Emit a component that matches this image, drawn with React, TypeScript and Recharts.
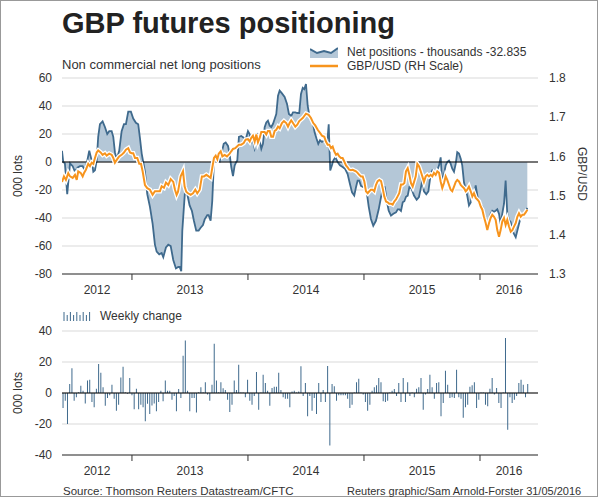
import { ComposedChart, BarChart, Area, Line, Bar, XAxis, YAxis, CartesianGrid, ReferenceLine } from 'recharts'

const FONT = '"Liberation Sans", Arial, sans-serif'
const TEXT = '#333'
const BLUE = '#3f6a8d'
const BLUE_FILL = '#b4c7d7'
const ORANGE = '#f7941d'
const GRID = '#d9d9d9'

// net non-commercial positions, thousands of lots (dates as decimal years)
const netDates = [
  2012.397, 2012.408, 2012.422, 2012.442, 2012.466, 2012.489, 2012.509, 2012.529, 2012.552, 2012.575,
  2012.595, 2012.615, 2012.632, 2012.653, 2012.667, 2012.681, 2012.696, 2012.709, 2012.724, 2012.747,
  2012.767, 2012.787, 2012.804, 2012.825, 2012.839, 2012.853, 2012.868, 2012.89, 2012.911, 2012.931,
  2012.948, 2012.968, 2012.991, 2013.011, 2013.034, 2013.054, 2013.069, 2013.084, 2013.097, 2013.112,
  2013.132, 2013.155, 2013.178, 2013.198, 2013.213, 2013.235, 2013.256, 2013.27, 2013.293, 2013.313,
  2013.334, 2013.356, 2013.379, 2013.399, 2013.411, 2013.425, 2013.434, 2013.448, 2013.459, 2013.477,
  2013.497, 2013.517, 2013.534, 2013.554, 2013.575, 2013.592, 2013.612, 2013.627, 2013.649, 2013.661,
  2013.678, 2013.692, 2013.707, 2013.722, 2013.736, 2013.756, 2013.77, 2013.791, 2013.808, 2013.828,
  2013.842, 2013.856, 2013.871, 2013.885, 2013.899, 2013.908, 2013.922, 2013.942, 2013.963, 2013.98,
  2014.0, 2014.015, 2014.028, 2014.043, 2014.058, 2014.072, 2014.086, 2014.101, 2014.115, 2014.129,
  2014.144, 2014.158, 2014.172, 2014.187, 2014.201, 2014.216, 2014.23, 2014.244, 2014.259, 2014.273,
  2014.293, 2014.316, 2014.336, 2014.353, 2014.373, 2014.388, 2014.408, 2014.425, 2014.442, 2014.457,
  2014.472, 2014.485, 2014.5, 2014.515, 2014.534, 2014.558, 2014.575, 2014.592, 2014.606, 2014.621,
  2014.638, 2014.658, 2014.672, 2014.687, 2014.696, 2014.709, 2014.724, 2014.735, 2014.753, 2014.773,
  2014.793, 2014.816, 2014.836, 2014.859, 2014.879, 2014.897, 2014.916, 2014.931, 2014.945, 2014.959,
  2014.974, 2014.994, 2015.011, 2015.026, 2015.041, 2015.06, 2015.08, 2015.103, 2015.127, 2015.147,
  2015.166, 2015.179, 2015.196, 2015.213, 2015.233, 2015.253, 2015.276, 2015.291, 2015.305, 2015.319,
  2015.334, 2015.348, 2015.362, 2015.377, 2015.391, 2015.41, 2015.431, 2015.454, 2015.474, 2015.489,
  2015.503, 2015.517, 2015.537, 2015.555, 2015.575, 2015.589, 2015.603, 2015.618, 2015.632, 2015.647,
  2015.661, 2015.675, 2015.69, 2015.704, 2015.718, 2015.733, 2015.747, 2015.761, 2015.776, 2015.791,
  2015.804, 2015.819, 2015.834, 2015.847, 2015.862, 2015.877, 2015.89, 2015.905, 2015.92, 2015.934,
  2015.948, 2015.963, 2015.977, 2015.991, 2016.006, 2016.02, 2016.034, 2016.049, 2016.063, 2016.078,
  2016.092, 2016.106, 2016.121, 2016.135, 2016.149, 2016.164, 2016.178, 2016.192, 2016.207, 2016.221,
  2016.235, 2016.25, 2016.265, 2016.279, 2016.293, 2016.308, 2016.322, 2016.336, 2016.351, 2016.365,
  2016.379, 2016.394, 2016.408,
]
const netValues = [
  8, 0, -1, -23, -1, -3, -7, -4, -3, -3,
  -6, 1, 8, 1, -7, -6, 1, 18, 27, 29,
  25, 20, 22, 22, 18, 7, 2, 8, 22, 27,
  27, 36, 36, 31, 28, 27, 17, 6, 0, -7,
  -23, -32, -44, -59, -64, -66, -65, -68, -61, -59,
  -60, -70, -76, -75, -75, -78, -49, -32, -19, -23,
  -31, -35, -42, -49, -49, -47, -45, -41, -38, -38,
  -42, -28, 1, 1, 2, 0.5, 5.5, 13, 14, 11.5,
  5.5, -3.6, -10, -2.6, 0, 1, 18, 18.6, 17.4, 16,
  22, 19.8, 14, 16, 9.5, 13, 18.6, 15, 9.5, 13,
  24.8, 28.3, 29.5, 26, 25, 27.3, 30.7, 34.3, 47.4, 51,
  49, 46.5, 41.7, 34.3, 33, 35.5, 35.5, 35, 35, 48.6,
  53, 52, 55.7, 40, 31, 28.3, 21, 16.4, 13, 15.5,
  14.3, 15.5, 13, 17.6, 27, -6, -2.4, 1, 3.3, 0,
  -2.4, -3.6, -4.8, -8.6, -15.7, -21.7, -24, -18, -13.3, -13.3,
  -17, -18, -18, -23, -32, -40.7, -45.5, -42, -33.8, -25,
  -18, -18, -27.6, -34.8, -38.3, -37, -36, -33.8, -33.8, -35,
  -28.8, -28, -24.8, -24, -18, -19, -24, -27, -25, -19,
  -13, -21, -23, -21, -8.6, -6, -7, -8.6, -6, -2.4,
  3.3, -15.7, -8.6, -2.4, 0, 1, -1.2, -4.8, -7, -1.2,
  7, 6, 2.4, -2.4, -14.5, -20, -24, -31, -28.8, -22.9,
  -24, -16.7, -24, -29.8, -31, -32, -36.9, -41.5, -45.5, -43,
  -37, -34.8, -35.5, -34.8, -33.8, -37, -44.3, -37, -29.8, -13.3,
  -36.9, -41.5, -43, -49, -51.4, -53.8, -49, -44.3, -39.5, -37,
  -36.9, -35.5, -32.8,
]

// GBP/USD spot, right-hand scale
const fxDates = [
  2012.397, 2012.414, 2012.431, 2012.451, 2012.466, 2012.489, 2012.509, 2012.524, 2012.537, 2012.558,
  2012.575, 2012.586, 2012.603, 2012.623, 2012.638, 2012.653, 2012.667, 2012.681, 2012.696, 2012.709,
  2012.73, 2012.747, 2012.767, 2012.782, 2012.804, 2012.825, 2012.839, 2012.853, 2012.873, 2012.89,
  2012.911, 2012.931, 2012.948, 2012.968, 2012.983, 2012.997, 2013.011, 2013.026, 2013.046, 2013.063,
  2013.078, 2013.092, 2013.112, 2013.132, 2013.155, 2013.178, 2013.198, 2013.218, 2013.241, 2013.256,
  2013.276, 2013.293, 2013.313, 2013.334, 2013.356, 2013.371, 2013.385, 2013.397, 2013.42, 2013.44,
  2013.454, 2013.468, 2013.483, 2013.506, 2013.526, 2013.546, 2013.563, 2013.584, 2013.603, 2013.621,
  2013.641, 2013.661, 2013.678, 2013.692, 2013.707, 2013.722, 2013.736, 2013.748, 2013.765, 2013.779,
  2013.799, 2013.819, 2013.842, 2013.856, 2013.871, 2013.89, 2013.908, 2013.922, 2013.942, 2013.963,
  2013.98, 2014.0, 2014.015, 2014.028, 2014.043, 2014.058, 2014.072, 2014.086, 2014.101, 2014.115,
  2014.129, 2014.144, 2014.158, 2014.172, 2014.187, 2014.201, 2014.216, 2014.23, 2014.244, 2014.259,
  2014.273, 2014.293, 2014.31, 2014.33, 2014.345, 2014.359, 2014.373, 2014.388, 2014.408, 2014.425,
  2014.442, 2014.472, 2014.5, 2014.523, 2014.543, 2014.563, 2014.58, 2014.601, 2014.621, 2014.638,
  2014.658, 2014.672, 2014.687, 2014.701, 2014.716, 2014.73, 2014.744, 2014.759, 2014.773, 2014.787,
  2014.802, 2014.816, 2014.83, 2014.845, 2014.859, 2014.873, 2014.888, 2014.902, 2014.916, 2014.931,
  2014.945, 2014.959, 2014.974, 2014.989, 2015.003, 2015.017, 2015.032, 2015.046, 2015.06, 2015.075,
  2015.089, 2015.103, 2015.118, 2015.132, 2015.147, 2015.161, 2015.175, 2015.19, 2015.204, 2015.218,
  2015.233, 2015.247, 2015.261, 2015.276, 2015.29, 2015.304, 2015.319, 2015.334, 2015.348, 2015.362,
  2015.377, 2015.391, 2015.405, 2015.42, 2015.446, 2015.46, 2015.474, 2015.489, 2015.503, 2015.517,
  2015.532, 2015.546, 2015.56, 2015.575, 2015.589, 2015.603, 2015.618, 2015.632, 2015.647, 2015.661,
  2015.675, 2015.69, 2015.704, 2015.718, 2015.733, 2015.747, 2015.761, 2015.776, 2015.791, 2015.804,
  2015.819, 2015.834, 2015.847, 2015.862, 2015.877, 2015.89, 2015.905, 2015.92, 2015.934, 2015.948,
  2015.963, 2015.977, 2015.991, 2016.006, 2016.02, 2016.034, 2016.049, 2016.063, 2016.078, 2016.092,
  2016.106, 2016.121, 2016.135, 2016.149, 2016.164, 2016.178, 2016.192, 2016.207, 2016.221, 2016.235,
  2016.25, 2016.265, 2016.279, 2016.293, 2016.308, 2016.322, 2016.336, 2016.351, 2016.365, 2016.379,
  2016.394, 2016.408,
]
const fxValues = [
  1.535, 1.549, 1.54, 1.557, 1.549, 1.545, 1.553, 1.54, 1.562, 1.558,
  1.549, 1.557, 1.566, 1.581, 1.575, 1.584, 1.581, 1.596, 1.61, 1.615,
  1.61, 1.604, 1.608, 1.602, 1.607, 1.604, 1.596, 1.584, 1.593, 1.6,
  1.604, 1.61, 1.617, 1.621, 1.61, 1.608, 1.608, 1.596, 1.596, 1.581,
  1.581, 1.562, 1.527, 1.519, 1.515, 1.502, 1.511, 1.511, 1.511, 1.524,
  1.52, 1.533, 1.527, 1.542, 1.535, 1.515, 1.502, 1.51, 1.549, 1.562,
  1.523, 1.51, 1.506, 1.502, 1.506, 1.515, 1.506, 1.515, 1.549, 1.549,
  1.553, 1.549, 1.545, 1.57, 1.596, 1.602, 1.593, 1.607, 1.613, 1.6,
  1.604, 1.6, 1.607, 1.613, 1.619, 1.621, 1.626, 1.63, 1.63, 1.634,
  1.643, 1.644, 1.638, 1.647, 1.653, 1.638, 1.656, 1.636, 1.647, 1.662,
  1.662, 1.662, 1.656, 1.665, 1.665, 1.65, 1.65, 1.665, 1.668, 1.676,
  1.672, 1.685, 1.69, 1.685, 1.676, 1.685, 1.692, 1.685, 1.676, 1.681,
  1.69, 1.698, 1.709, 1.706, 1.698, 1.685, 1.679, 1.668, 1.66, 1.653,
  1.65, 1.638, 1.63, 1.63, 1.621, 1.625, 1.613, 1.604, 1.607, 1.6,
  1.596, 1.596, 1.587, 1.577, 1.572, 1.566, 1.565, 1.566, 1.564, 1.562,
  1.558, 1.553, 1.549, 1.549, 1.536, 1.511, 1.506, 1.511, 1.515, 1.515,
  1.511, 1.527, 1.537, 1.54, 1.537, 1.519, 1.498, 1.485, 1.483, 1.479,
  1.479, 1.477, 1.485, 1.49, 1.498, 1.506, 1.528, 1.528, 1.532, 1.562,
  1.57, 1.553, 1.532, 1.523, 1.549, 1.581, 1.575, 1.562, 1.549, 1.535,
  1.549, 1.553, 1.549, 1.553, 1.549, 1.558, 1.553, 1.562, 1.558, 1.536,
  1.519, 1.532, 1.549, 1.54, 1.527, 1.515, 1.511, 1.523, 1.535, 1.54,
  1.536, 1.527, 1.523, 1.519, 1.511, 1.515, 1.523, 1.511, 1.498, 1.506,
  1.494, 1.49, 1.485, 1.472, 1.464, 1.446, 1.43, 1.412, 1.43, 1.443,
  1.451, 1.446, 1.438, 1.412, 1.395, 1.412, 1.434, 1.443, 1.425, 1.438,
  1.421, 1.408, 1.412, 1.421, 1.43, 1.446, 1.455, 1.446, 1.451, 1.451,
  1.457, 1.464,
]

// weekly change in net positions, thousands of lots, one value per week
const changeStart = 2012.4026
const changeValues = [
  -9.7, -5, -20, 5.8, 16, -5, -2.8, 0.5, 4.7, 1.5,
  -6.7, 8, 8.6, -5.8, -9.2, 2.8, 18.7, 13, 3.7, -8.2,
  -3.2, -1.5, 5.4, -3.7, -11.4, -7.5, 10, 17, 0.5, -0.5,
  9.7, -1.5, -10.5, 2.8, -10.5, -7.5, -9.2, -18.3, -7, -13.5,
  -8, -6.7, -11.8, -5.8, 1.5, -5.4, 8, 1.5, 1.5, -4.3,
  -2, -11.8, 2.6, -3.2, 24, 33.8, 1.5, -11.8, -3.2, -3.2,
  -12.5, 0.5, 3.7, 0.5, 7, -1, -5, 5.4, 31.8, 8,
  0.5, 7, 3, 2, -4.3, -12.3, -7.5, 8, 2, 18.3,
  0.3, 0.3, -2.8, 8.6, -5, -7.5, -2, 13.5, -10.8, 0.3,
  11.8, 6.5, 1.5, -8.2, 3.2, 4, 4, 13, 2, -2.8,
  -3.7, -3.7, -9.2, 1, 1.5, 0.3, 1, 17.2, -2, 6.5,
  -15, -2, -11.4, -3.2, -13.5, 6.5, -5.8, 2, -5.8, 17.4,
  -33.8, 5.8, 4.3, -5, -1.5, -1.5, -1.5, -1.5, -3.7, -9.7,
  -7.5, 0.3, 7, 9.2, 0.3, -1, -5.8, -11.4, -7.5, 1.5,
  3.7, 5, 9.7, 7, -5.4, -5.8, -5, 0.3, 1.5, 2.6,
  -2, 6.5, -5.8, 9.7, -5.8, 7, -2, 0.3, -2.8, 2.8,
  3.7, 9.7, -10.8, -1, 2.6, 11.8, 3.7, -3.7, 6.5, 7,
  -15, -6.5, 14.4, 5.4, -3.2, -2.8, -3.2, 15, -2.8, -3.7,
  -16, -9.2, -7.5, 4, 5, 7, -9.7, -4.3, 0.3, 0.3,
  -7.5, -8.6, 2.8, 9.7, -1, 3.2, -6.5, -9.7, 0.3, 35.5,
  -23.7, -2.8, -6.5, -4.3, -2, 6.5, 8.6, 5.4, -2.8, 5.8,
]

const years = [2012, 2013, 2014, 2015, 2016]
const xDomain = [2012.397, 2016.5]
const leftTicks = [-80, -60, -40, -20, 0, 20, 40, 60]
const rightTicks = [1.3, 1.4, 1.5, 1.6, 1.7, 1.8]
const changeTicks = [-40, -20, 0, 20, 40]

const topRows = [
  ...netDates.map((t, i) => ({ t, net: netValues[i] })),
  ...fxDates.map((t, i) => ({ t, fx: fxValues[i] })),
].sort((a, b) => a.t - b.t)

const changeRows = changeValues.map((v, i) => ({ t: changeStart + (i * 7) / 365.25, v }))

// year boundaries get a tick mark, the middle of each visible year gets the label
const yearMarks = years.filter((y) => y > xDomain[0] && y < xDomain[1])
const yearMids = years.map((y) => (Math.max(y, xDomain[0]) + Math.min(y + 1, xDomain[1])) / 2)
const xTicks = [...yearMarks, ...yearMids].sort((a, b) => a - b)

const tickStyle = { fontSize: 12, fill: TEXT, fontFamily: FONT }

const YearTick = ({ x, y, payload }: { x: number; y: number; payload: { value: number } }) => {
  const v = payload.value
  if (Number.isInteger(v)) return <line x1={x} x2={x} y1={y} y2={y + 6} stroke="#333" />
  return (
    <text x={x} y={y + 16} dy="0.35em" textAnchor="middle" {...tickStyle}>
      {Math.floor(v)}
    </text>
  )
}

const Txt = ({ x, y, size = 12, children, bold = false }: { x: number; y: number; size?: number; children: any; bold?: boolean }) => (
  <div
    style={{
      position: 'absolute',
      left: x,
      top: y,
      fontSize: size,
      lineHeight: `${Math.round(size * 1.17)}px`,
      fontWeight: bold ? 700 : 400,
      color: bold ? '#222' : TEXT,
      whiteSpace: 'nowrap',
    }}
  >
    {children}
  </div>
)

const VLabel = ({ cx, cy, angle, children }: { cx: number; cy: number; angle: number; children: any }) => (
  <div
    style={{
      position: 'absolute',
      left: cx,
      top: cy,
      fontSize: 12,
      color: TEXT,
      whiteSpace: 'nowrap',
      transform: `translate(-50%, -50%) rotate(${angle}deg)`,
    }}
  >
    {children}
  </div>
)

export default function App() {
  return (
    <div style={{ position: 'absolute', left: 0, top: 0, width: 600, height: 500, background: '#fff', fontFamily: FONT }}>
      <div style={{ position: 'absolute', left: 0, top: 0, width: 598, height: 497, border: '1px solid #999', boxSizing: 'border-box' }} />

      <Txt x={62} y={6} size={29} bold>
        GBP futures positioning
      </Txt>
      <Txt x={62} y={57} size={13}>Non commercial net long positions</Txt>

      <svg style={{ position: 'absolute', left: 310, top: 46 }} width={28} height={12}>
        <polygon points="0,12 0,3 7,7 14,5 21,7 28,2 28,12" fill={BLUE_FILL} />
        <polyline points="0,3 7,7 14,5 21,7 28,2" fill="none" stroke={BLUE} strokeWidth={2} />
      </svg>
      <Txt x={347} y={45}>Net positions - thousands -32.835</Txt>
      <svg style={{ position: 'absolute', left: 310, top: 62 }} width={28} height={8}>
        <line x1={0} x2={28} y1={4} y2={4} stroke={ORANGE} strokeWidth={2.5} />
      </svg>
      <Txt x={347} y={59}>GBP/USD (RH Scale)</Txt>

      <VLabel cx={18} cy={176} angle={-90}>000 lots</VLabel>
      <VLabel cx={582} cy={174} angle={90}>GBP/USD</VLabel>

      <div style={{ position: 'absolute', left: 0, top: 0 }}>
        <ComposedChart width={600} height={300} data={topRows} margin={{ top: 78, right: 0, bottom: 0, left: 0 }}>
          <CartesianGrid yAxisId="left" vertical={false} stroke={GRID} />
          <XAxis
            dataKey="t"
            type="number"
            domain={xDomain}
            allowDataOverflow
            ticks={xTicks}
            interval={0}
            tick={YearTick}
            tickLine={false}
            tickSize={0}
            tickMargin={0}
            axisLine={{ stroke: '#333' }}
            height={26}
          />
          <YAxis
            yAxisId="left"
            domain={[-80, 60]}
            ticks={leftTicks}
            interval={0}
            width={62}
            axisLine={false}
            tickLine={false}
            tickSize={0}
            tickMargin={10}
            tick={tickStyle}
          />
          <YAxis
            yAxisId="right"
            orientation="right"
            domain={[1.3, 1.8]}
            ticks={rightTicks}
            interval={0}
            width={62}
            axisLine={false}
            tickLine={false}
            tickSize={0}
            tickMargin={11}
            tick={{ ...tickStyle, textAnchor: 'start' }}
            tickFormatter={(v: number) => v.toFixed(1)}
          />
          <Area
            yAxisId="left"
            type="linear"
            dataKey="net"
            stroke={BLUE}
            strokeWidth={1.8}
            fill={BLUE_FILL}
            fillOpacity={1}
            connectNulls
            dot={false}
            activeDot={false}
            isAnimationActive={false}
          />
          <ReferenceLine yAxisId="left" y={0} stroke="#000" strokeWidth={1} />
          <Line
            yAxisId="right"
            type="linear"
            dataKey="fx"
            stroke="#fff"
            strokeWidth={4.5}
            connectNulls
            dot={false}
            activeDot={false}
            isAnimationActive={false}
          />
          <Line
            yAxisId="right"
            type="linear"
            dataKey="fx"
            stroke={ORANGE}
            strokeWidth={2}
            connectNulls
            dot={false}
            activeDot={false}
            isAnimationActive={false}
          />
        </ComposedChart>
      </div>

      <svg style={{ position: 'absolute', left: 63, top: 311 }} width={28} height={10}>
        {[0, 1, 2, 3, 4, 5, 6, 7, 8].map((i) => (
          <line key={i} x1={1 + i * 3.2} x2={1 + i * 3.2} y1={i % 2 ? 4 : 1} y2={10} stroke={BLUE} strokeWidth={1} />
        ))}
      </svg>
      <Txt x={100} y={309}>Weekly change</Txt>
      <VLabel cx={18} cy={393} angle={-90}>000 lots</VLabel>

      <div style={{ position: 'absolute', left: 0, top: 300 }}>
        <BarChart width={600} height={180} data={changeRows} margin={{ top: 31, right: 62, bottom: 0, left: 0 }}>
          <CartesianGrid vertical={false} stroke={GRID} />
          <XAxis
            dataKey="t"
            type="number"
            domain={xDomain}
            allowDataOverflow
            ticks={xTicks}
            interval={0}
            tick={YearTick}
            tickLine={false}
            tickSize={0}
            tickMargin={0}
            axisLine={{ stroke: '#333' }}
            height={25}
          />
          <YAxis
            domain={[-40, 40]}
            ticks={changeTicks}
            interval={0}
            width={62}
            axisLine={false}
            tickLine={false}
            tickSize={0}
            tickMargin={10}
            tick={tickStyle}
          />
          <Bar dataKey="v" fill={BLUE} barSize={1} isAnimationActive={false} />
          <ReferenceLine y={0} stroke="#000" strokeWidth={1} />
        </BarChart>
      </div>

      <Txt x={63} y={485} size={11.5}>Source: Thomson Reuters Datastream/CFTC</Txt>
      <Txt x={347} y={485} size={11}>Reuters graphic/Sam Arnold-Forster 31/05/2016</Txt>
    </div>
  )
}
